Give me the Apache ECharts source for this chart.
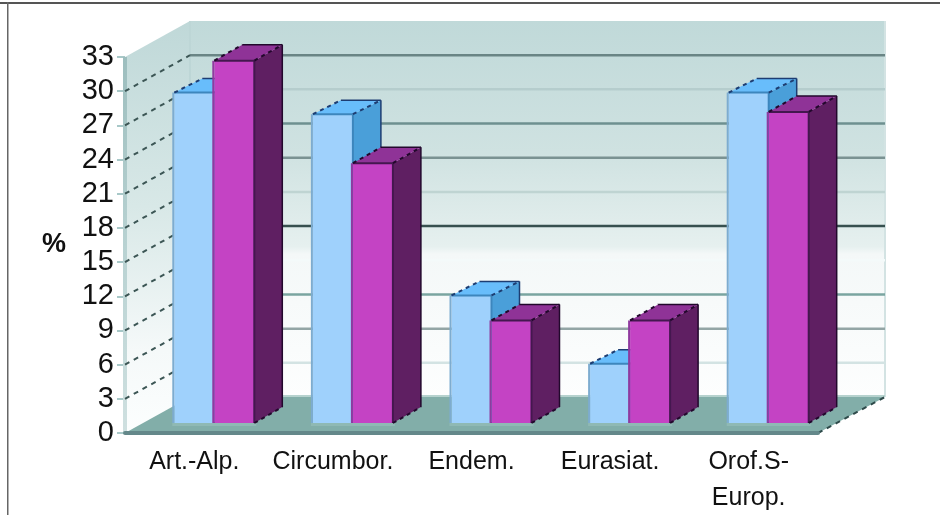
<!DOCTYPE html>
<html>
<head>
<meta charset="utf-8">
<style>
html, body { margin: 0; padding: 0; background: #fff; }
#chart { width: 940px; height: 515px; filter: blur(0.5px); }
</style>
<script src="https://cdn.jsdelivr.net/npm/echarts@6/dist/echarts.min.js"></script>
</head>
<body>
<div id="chart"></div>
<script>
const categories = ["Art.-Alp.", "Circumbor.", "Endem.", "Eurasiat.", "Orof.S-\nEurop."]
const blueValues = [29, 27.1, 11.2, 5.2, 29]
const purpleValues = [31.8, 22.8, 9, 9, 27.3]
const yTicks = [3, 6, 9, 12, 15, 18, 21, 24, 27, 30]
const yMax = 33

// colour of the back wall line at each tick of yTicks
const wallLineColors = ["#d3e3e3", "#93a5a5", "#7aa5a0", "#f4fafa", "#37504f", "#bfd4d2", "#7a9292", "#6e9090", "#b5cdcd", "#6a8585"]

const wallDx = 65, wallDy = -36, wallExtra = 2
const barDx = 20, barDy = -10, barW = 40
const sideDx = 28, sideDy = -16

const blueStyle = { front: "#9fd1fc", top: "#68bdfb", side: "#4a9fd9", left: "#7dacd0", seam: "#3d86bd", edge: "#1d3d72", topDy: -14 }
const purpleStyle = { front: "#c443c4", top: "#8f3397", side: "#5f1f62", left: "#8f3a9f", seam: "#44174f", edge: "#22082c", topDy: -16 }

const chart = echarts.init(document.getElementById("chart"), null, { renderer: "canvas" })

function vGrad(stops) {
    return {
        type: "linear", x: 0, y: 0, x2: 0, y2: 1,
        colorStops: stops.map(s => ({ offset: s[0], color: s[1] }))
    }
}

function renderWalls(params, api) {
    const band = api.size([1, 0])[0]
    const left = api.coord([0, 0])[0] - band / 2
    const right = api.coord([categories.length - 1, 0])[0] + band / 2
    const y0 = api.coord([0, 0])[1]
    const yTop = api.coord([0, yMax])[1]
    const backR = right + wallDx + wallExtra
    const children = []

    children.push({
        type: "polygon",
        shape: { points: [[left, yTop], [left + wallDx, yTop + wallDy], [left + wallDx, y0 + wallDy], [left, y0]] },
        style: { fill: vGrad([[0, "#bfd8d8"], [0.45, "#d8e8e7"], [0.8, "#f5f9f9"], [1, "#fcfefe"]]) }
    })
    children.push({
        type: "rect",
        shape: { x: left + wallDx, y: yTop + wallDy, width: backR - left - wallDx, height: y0 - yTop },
        style: { fill: vGrad([[0, "#c0d9d9"], [0.35, "#cfe2e1"], [0.6, "#e6f0ef"], [0.62, "#f4f8f8"], [1, "#fdfefe"]]) }
    })
    // back wall edges
    children.push({
        type: "line",
        shape: { x1: left + wallDx, y1: yTop + wallDy, x2: left + wallDx, y2: y0 + wallDy },
        style: { stroke: "#bdd6d6", lineWidth: 2 }
    })
    children.push({
        type: "line",
        shape: { x1: backR, y1: yTop + wallDy, x2: backR, y2: y0 + wallDy },
        style: { stroke: "#d3e3e3", lineWidth: 2 }
    })
    // left wall front edge
    children.push({
        type: "rect",
        shape: { x: left - 2, y: yTop, width: 4, height: y0 - yTop },
        style: { fill: vGrad([[0, "#9dbebe"], [0.5, "#b8d2d2"], [1, "#cfe0e0"]]) }
    })

    yTicks.forEach((t, i) => {
        const y = api.coord([0, t])[1]
        children.push({
            type: "line",
            shape: { x1: left + wallDx, y1: y + wallDy, x2: backR, y2: y + wallDy },
            style: { stroke: wallLineColors[i], lineWidth: 2.5 }
        })
        children.push({
            type: "line",
            shape: { x1: left, y1: y, x2: left + wallDx, y2: y + wallDy },
            style: { stroke: "#3c5655", lineWidth: 2, lineDash: [5, 5] }
        })
    })

    // floor
    children.push({
        type: "polygon",
        shape: { points: [[left, y0], [left + wallDx, y0 + wallDy], [backR, y0 + wallDy], [right, y0]] },
        style: { fill: "#82aea9" }
    })
    children.push({
        type: "line",
        shape: { x1: left + wallDx, y1: y0 + wallDy - 1, x2: backR, y2: y0 + wallDy - 1 },
        style: { stroke: "#b6d2ce", lineWidth: 2 }
    })
    children.push({
        type: "line",
        shape: { x1: right, y1: y0, x2: backR, y2: y0 + wallDy },
        style: { stroke: "#2e4a4a", lineWidth: 2, lineDash: [5, 5] }
    })
    return { type: "group", children }
}

function barRenderer(shift, s) {
    return function (params, api) {
        const cat = api.value(0)
        const top = api.coord([cat, api.value(1)])
        const base = api.coord([cat, 0])
        const x = top[0] + shift
        const y = top[1] + barDy
        const yB = base[1] + barDy
        const xR = x + barW
        const yT = y + s.topDy
        return {
            type: "group",
            children: [
                // shadow strip on the floor
                { type: "rect", shape: { x: x - 2, y: yB, width: barW + 4, height: 3 }, style: { fill: "#8fb9b4" } },
                { type: "polygon", shape: { points: [[xR, y], [xR + sideDx, yT], [xR + sideDx, yB + sideDy], [xR, yB]] }, style: { fill: s.side } },
                { type: "polygon", shape: { points: [[x, y], [x + sideDx, yT], [xR + sideDx, yT], [xR, y]] }, style: { fill: s.top } },
                { type: "rect", shape: { x: x, y: y, width: barW, height: yB - y }, style: { fill: s.front } },
                { type: "line", shape: { x1: x - 1, y1: y, x2: x - 1, y2: yB }, style: { stroke: s.left, lineWidth: 2 } },
                { type: "line", shape: { x1: xR, y1: y, x2: xR, y2: yB }, style: { stroke: s.seam, lineWidth: 2 } },
                { type: "line", shape: { x1: xR + sideDx, y1: yT, x2: xR + sideDx, y2: yB + sideDy }, style: { stroke: s.edge, lineWidth: 1.5 } },
                { type: "line", shape: { x1: x, y1: y, x2: xR, y2: y }, style: { stroke: s.seam, lineWidth: 2 } },
                { type: "line", shape: { x1: x + sideDx, y1: yT, x2: xR + sideDx, y2: yT }, style: { stroke: s.edge, lineWidth: 1.5 } },
                { type: "line", shape: { x1: x, y1: y, x2: x + sideDx, y2: yT }, style: { stroke: s.edge, lineWidth: 2, lineDash: [4, 4] } },
                { type: "line", shape: { x1: xR, y1: y, x2: xR + sideDx, y2: yT }, style: { stroke: s.edge, lineWidth: 2, lineDash: [4, 4] } },
                { type: "line", shape: { x1: xR, y1: yB, x2: xR + sideDx, y2: yB + sideDy }, style: { stroke: s.edge, lineWidth: 2, lineDash: [4, 4] } }
            ]
        }
    }
}

chart.setOption({
    animation: false,
    backgroundColor: "#fff",
    textStyle: { fontFamily: "Liberation Sans" },
    grid: { left: 125, right: 122, top: 57, bottom: 82, outerBoundsMode: "none" },
    xAxis: {
        type: "category",
        data: categories,
        z: 3,
        axisLine: { lineStyle: { color: "#64888a", width: 4 } },
        axisTick: { length: 7, lineStyle: { color: "#a8cccc", width: 2 } },
        axisLabel: { interval: 0, fontSize: 25, color: "#111", lineHeight: 36, margin: 11 }
    },
    yAxis: {
        type: "value",
        min: 0,
        max: yMax,
        interval: 3,
        name: "%",
        nameLocation: "middle",
        nameGap: 59,
        nameRotate: 0,
        nameTextStyle: { fontSize: 27, color: "#111", fontWeight: "bold", padding: [4, 0, 0, 0] },
        axisLine: { show: false },
        axisTick: { show: true, length: 8, lineStyle: { color: "#a8c8c8", width: 2 } },
        axisLabel: { fontSize: 29, color: "#111", margin: 11, padding: [4, 0, 0, 0] },
        splitLine: { show: false }
    },
    graphic: [
        { type: "rect", shape: { x: 0, y: 2, width: 940, height: 2 }, style: { fill: "#555" } },
        { type: "rect", shape: { x: 7, y: 2, width: 1.5, height: 513 }, style: { fill: "#666" } }
    ],
    series: [
        { type: "custom", name: "walls", z: 1, clip: false, silent: true, data: [[0, 0]], renderItem: renderWalls },
        {
            type: "custom", name: "blue", z: 2, clip: false,
            data: blueValues.map((v, i) => [i, v]),
            encode: { x: 0, y: 1 },
            renderItem: barRenderer(barDx - barW, blueStyle)
        },
        {
            type: "custom", name: "purple", z: 3, clip: false,
            data: purpleValues.map((v, i) => [i, v]),
            encode: { x: 0, y: 1 },
            renderItem: barRenderer(barDx, purpleStyle)
        }
    ]
})
</script>
</body>
</html>
